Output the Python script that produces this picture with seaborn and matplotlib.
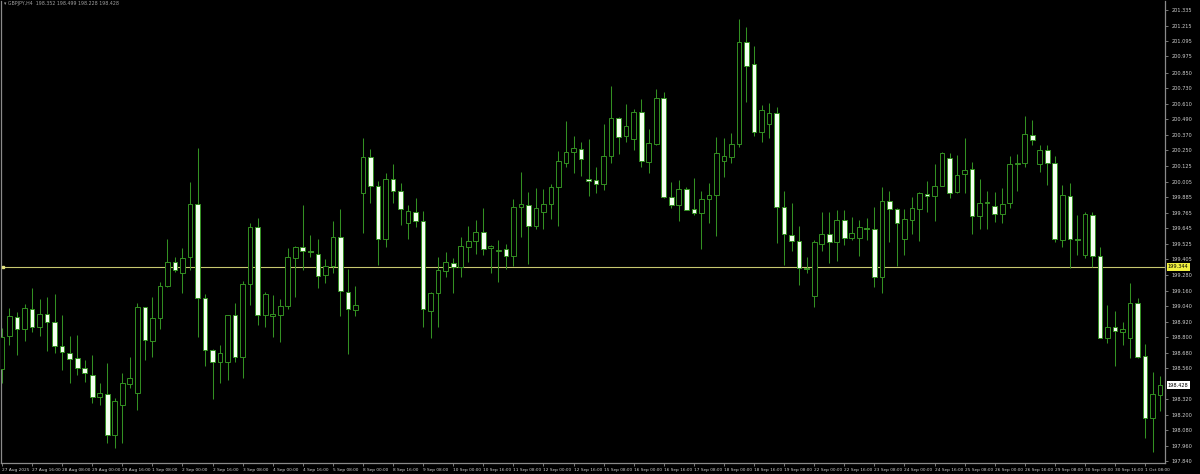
import matplotlib
matplotlib.use("Agg")
import matplotlib.pyplot as plt
import numpy as np
import pandas as pd
import seaborn as sns

# GBPJPY H4 bars, 27 Aug 2025 00:00 -> 1 Oct 2025 16:00
opens = [
    198.553, 198.809, 198.956, 198.863, 199.018, 198.879, 198.980, 198.918, 198.731, 198.677,
    198.638, 198.561, 198.507, 198.336, 198.360, 198.042, 198.275, 198.437, 198.367, 199.034,
    198.770, 198.949, 199.197, 199.383, 199.297, 199.421, 199.832, 199.104, 198.700, 198.607,
    198.607, 198.972, 198.646, 199.212, 199.654, 198.972, 198.964, 198.972, 199.042, 199.414,
    199.499, 199.468, 199.445, 199.282, 199.352, 199.576, 199.150, 199.011, 199.917, 200.196,
    199.972, 199.561, 200.026, 199.933, 199.685, 199.770, 199.700, 199.003, 199.142, 199.313,
    199.375, 199.344, 199.499, 199.545, 199.615, 199.491, 199.468, 199.483, 199.429, 199.809,
    199.824, 199.662, 199.770, 199.832, 199.964, 200.150, 200.235, 200.258, 200.026, 200.018,
    199.987, 200.204, 200.498, 200.359, 200.336, 200.545, 200.158, 200.297, 200.654, 199.886,
    199.824, 199.948, 199.793, 199.762, 199.871, 199.902, 200.165, 200.196, 200.297, 201.087,
    200.917, 200.390, 200.452, 200.537, 199.809, 199.592, 199.545, 199.336, 199.119, 199.522,
    199.600, 199.538, 199.708, 199.569, 199.569, 199.646, 199.638, 199.266, 199.855, 199.793,
    199.561, 199.708, 199.793, 199.910, 199.894, 199.972, 200.189, 199.925, 200.065, 200.103,
    199.739, 199.840, 199.816, 199.755, 199.840, 200.142, 200.150, 200.367, 200.142, 200.251,
    200.150, 199.553, 199.894, 199.561, 199.437, 199.747, 199.429, 198.793, 198.879, 198.840,
    198.793, 199.065, 198.654, 198.174, 198.352,
]
highs = [
    198.871, 199.026, 198.995, 199.057, 199.181, 199.096, 199.111, 199.135, 198.972, 198.809,
    198.817, 198.623, 198.662, 198.445, 198.600, 198.329, 198.522, 198.646, 199.065, 199.034,
    199.111, 199.228, 199.561, 199.421, 199.491, 200.003, 200.266, 199.135, 198.708, 198.739,
    198.972, 199.065, 199.235, 199.685, 199.724, 199.150, 199.127, 199.096, 199.491, 199.507,
    199.824, 199.592, 199.561, 199.406, 199.700, 199.793, 199.328, 199.197, 200.344, 200.258,
    200.010, 200.072, 200.142, 199.995, 199.824, 199.878, 199.778, 199.150, 199.421, 199.460,
    199.414, 199.576, 199.662, 199.708, 199.801, 199.514, 199.553, 199.522, 199.871, 200.080,
    199.925, 199.956, 199.948, 199.987, 200.243, 200.475, 200.359, 200.313, 200.336, 200.119,
    200.452, 200.747, 200.506, 200.607, 200.568, 200.646, 200.413, 200.723, 200.700, 200.003,
    200.018, 199.964, 200.034, 199.933, 199.995, 200.351, 200.344, 200.382, 201.266, 201.204,
    201.056, 200.599, 200.615, 200.584, 199.933, 199.840, 199.662, 199.421, 199.553, 199.770,
    199.770, 199.785, 199.785, 199.731, 199.708, 199.724, 199.809, 199.964, 199.933, 199.801,
    199.793, 199.886, 199.925, 200.010, 200.142, 200.235, 200.227, 200.212, 200.344, 200.158,
    200.026, 199.933, 199.925, 199.956, 200.204, 200.220, 200.514, 200.483, 200.289, 200.289,
    200.204, 199.979, 199.995, 199.747, 199.770, 199.770, 199.499, 199.049, 199.003, 198.918,
    199.220, 199.104, 198.747, 198.530, 198.499,
]
lows = [
    198.445, 198.739, 198.662, 198.770, 198.840, 198.809, 198.693, 198.677, 198.545, 198.445,
    198.507, 198.452, 198.290, 198.275, 197.980, 197.941, 197.980, 198.406, 198.236, 198.623,
    198.646, 198.863, 199.189, 199.305, 199.142, 199.321, 198.801, 198.576, 198.321, 198.445,
    198.468, 198.607, 198.483, 199.049, 198.894, 198.879, 198.801, 198.762, 199.018, 199.111,
    199.321, 199.421, 199.181, 199.220, 199.297, 198.964, 198.669, 198.964, 199.607, 199.840,
    199.359, 199.499, 199.840, 199.669, 199.561, 199.654, 198.879, 198.793, 198.879, 199.266,
    199.142, 199.266, 199.383, 199.445, 199.437, 199.297, 199.228, 199.328, 199.352, 199.576,
    199.367, 199.638, 199.638, 199.716, 199.662, 200.119, 200.072, 200.049, 199.894, 199.917,
    199.941, 200.150, 200.220, 200.313, 200.251, 200.119, 200.072, 200.289, 199.878, 199.801,
    199.700, 199.785, 199.747, 199.483, 199.685, 199.584, 200.041, 200.150, 200.274, 200.622,
    200.359, 200.313, 200.344, 199.530, 199.359, 199.468, 199.204, 199.297, 199.034, 199.468,
    199.375, 199.390, 199.514, 199.553, 199.429, 199.553, 199.189, 199.142, 199.538, 199.352,
    199.437, 199.600, 199.545, 199.770, 199.700, 199.972, 199.878, 199.917, 199.917, 199.600,
    199.638, 199.638, 199.693, 199.685, 199.801, 199.933, 200.119, 200.289, 200.080, 199.979,
    199.538, 199.499, 199.336, 199.437, 199.414, 199.344, 198.793, 198.755, 198.576, 198.739,
    198.638, 198.638, 198.019, 197.910, 198.228,
]
closes = [
    198.801, 198.964, 198.863, 199.026, 198.879, 198.980, 198.918, 198.731, 198.685, 198.631,
    198.561, 198.522, 198.336, 198.367, 198.042, 198.305, 198.445, 198.483, 199.034, 198.778,
    198.949, 199.197, 199.383, 199.321, 199.414, 199.832, 199.104, 198.700, 198.607, 198.677,
    198.972, 198.646, 199.212, 199.654, 198.972, 199.135, 198.980, 199.042, 199.421, 199.499,
    199.468, 199.460, 199.274, 199.352, 199.576, 199.158, 199.018, 199.049, 200.196, 199.972,
    199.561, 200.026, 199.933, 199.793, 199.778, 199.700, 199.018, 199.142, 199.321, 199.383,
    199.344, 199.507, 199.545, 199.615, 199.483, 199.507, 199.476, 199.429, 199.809, 199.832,
    199.662, 199.801, 199.832, 199.964, 200.165, 200.235, 200.266, 200.181, 200.010, 199.987,
    200.204, 200.498, 200.351, 200.437, 200.545, 200.165, 200.305, 200.654, 199.886, 199.824,
    199.948, 199.785, 199.762, 199.871, 199.902, 200.227, 200.204, 200.297, 201.087, 200.901,
    200.390, 200.560, 200.537, 199.809, 199.600, 199.545, 199.336, 199.328, 199.538, 199.600,
    199.538, 199.708, 199.569, 199.607, 199.654, 199.638, 199.266, 199.855, 199.793, 199.685,
    199.716, 199.801, 199.917, 199.894, 199.972, 200.227, 199.917, 200.057, 200.095, 199.739,
    199.840, 199.847, 199.755, 199.832, 200.142, 200.150, 200.374, 200.328, 200.251, 200.150,
    199.561, 199.902, 199.561, 199.553, 199.755, 199.429, 198.793, 198.879, 198.848, 198.863,
    199.065, 198.646, 198.174, 198.360, 198.428,
]

time_labels = [
    "27 Aug 2025", "27 Aug 16:00", "28 Aug 08:00", "29 Aug 00:00", "29 Aug 16:00",
    "1 Sep 08:00", "2 Sep 00:00", "2 Sep 16:00", "3 Sep 08:00", "4 Sep 00:00",
    "4 Sep 16:00", "5 Sep 08:00", "8 Sep 00:00", "8 Sep 16:00", "9 Sep 08:00",
    "10 Sep 00:00", "10 Sep 16:00", "11 Sep 08:00", "12 Sep 00:00", "12 Sep 16:00",
    "15 Sep 08:00", "16 Sep 00:00", "16 Sep 16:00", "17 Sep 08:00", "18 Sep 00:00",
    "18 Sep 16:00", "19 Sep 08:00", "22 Sep 00:00", "22 Sep 16:00", "23 Sep 08:00",
    "24 Sep 00:00", "24 Sep 16:00", "25 Sep 08:00", "26 Sep 00:00", "26 Sep 16:00",
    "29 Sep 08:00", "30 Sep 00:00", "30 Sep 16:00", "1 Oct 08:00",
]
price_ticks = [
    201.335, 201.215, 201.095, 200.975, 200.850, 200.730, 200.610, 200.490, 200.370,
    200.250, 200.125, 200.005, 199.885, 199.765, 199.645, 199.525, 199.405, 199.280,
    199.160, 199.040, 198.920, 198.800, 198.680, 198.560, 198.320, 198.200, 198.080,
    197.960, 197.840,
]
hline_price = 199.344
last_price = 198.428
header = "GBPJPY,H4  198.352 198.499 198.228 198.428"

GREEN = "#339022"
GRID_GREY = "#8a8a8a"
TEXT_GREY = "#d0d0d0"

sns.set_theme(style="dark", rc={
    "axes.facecolor": "black",
    "figure.facecolor": "black",
    "axes.edgecolor": GRID_GREY,
    "xtick.color": GRID_GREY,
    "ytick.color": GRID_GREY,
})
plt.rcParams["font.family"] = ["DejaVu Sans"]

df = pd.DataFrame({"open": opens, "high": highs, "low": lows, "close": closes})
df["bar"] = np.arange(len(df))
df["bull"] = df["close"] >= df["open"]
df["body_lo"] = df[["open", "close"]].min(axis=1)
df["body_h"] = (df["open"] - df["close"]).abs().clip(lower=0.002)

fig = plt.figure(figsize=(12, 4.74), dpi=100)
ax = fig.add_axes([1 / 1200, 11 / 474, 1164 / 1200, 462 / 474])

# wicks
ax.vlines(df["bar"], df["low"], df["high"], color=GREEN, lw=0.75, zorder=2)
# bodies: bull = black with green outline, bear = white
ax.bar(df["bar"], df["body_h"], bottom=df["body_lo"], width=0.62,
       color=np.where(df["bull"], "black", "#f4fff0"),
       edgecolor=GREEN, linewidth=0.7, zorder=3)

# horizontal level line
ax.axhline(hline_price, color="#c8c870", lw=0.8, zorder=1)
ax.plot([0.002], [hline_price], marker="s", ms=2, color="#e0e080",
        transform=ax.get_yaxis_transform(), clip_on=False, zorder=4)

ax.set_xlim(-0.13, 154.65)
ax.set_ylim(197.825, 201.405)

ax.set_xticks(np.arange(0, len(df), 4), time_labels)
for lbl in ax.get_xticklabels():
    lbl.set_horizontalalignment("left")
ax.tick_params(axis="x", labelsize=3.1, labelcolor=TEXT_GREY, length=2.5,
               width=0.6, pad=1.2, direction="out", bottom=True)

ax.yaxis.tick_right()
ax.set_yticks(price_ticks, [f"{p:.3f}" for p in price_ticks])
ax.tick_params(axis="y", labelsize=3.6, labelcolor=TEXT_GREY, length=2.5,
               width=0.6, pad=2, direction="out", right=True, left=False)

for side in ["left", "right", "bottom"]:
    ax.spines[side].set_color(GRID_GREY)
    ax.spines[side].set_linewidth(0.9)
ax.spines["top"].set_visible(False)
ax.grid(False)

# price tags on the right scale
ytr = ax.get_yaxis_transform()
ax.text(1.0025, hline_price, f"{hline_price:.3f}", transform=ytr, fontsize=3.6,
        color="black", ha="left", va="center", clip_on=False,
        bbox=dict(boxstyle="square,pad=0.25", fc="#f0f040", ec="none"))
ax.text(1.0025, last_price, f"{last_price:.3f}", transform=ytr, fontsize=3.6,
        color="black", ha="left", va="center", clip_on=False,
        bbox=dict(boxstyle="square,pad=0.25", fc="white", ec="none"))

fig.text(4 / 1200, 1 - 4 / 474, "\u25be " + header, fontsize=3.4,
         color="#a0a0a0", ha="left", va="center")

fig.savefig("out.png", dpi=100, facecolor="black")
